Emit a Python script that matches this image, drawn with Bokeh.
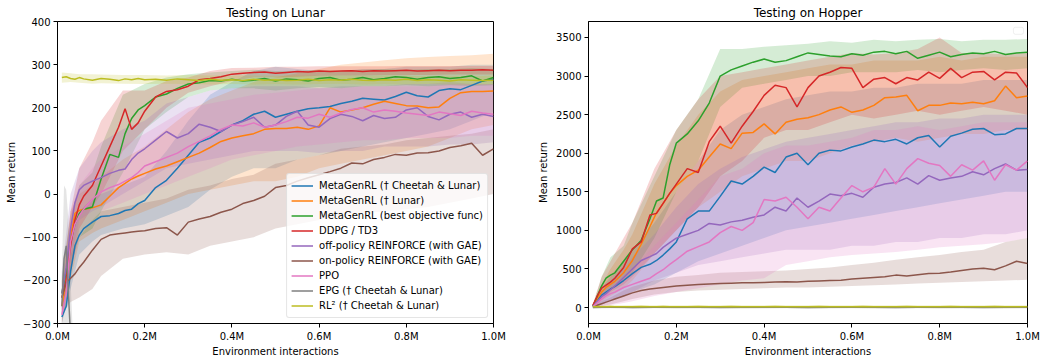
from bokeh.plotting import figure
from bokeh.layouts import row
from bokeh.models import Range1d, FixedTicker, CustomJSTickFormatter, BoxAnnotation
from bokeh.embed import file_html
from bokeh.resources import INLINE

# ---------------- data ----------------
# x grid (millions of environment interactions) for the mean curves
X = [0.01, 0.02, 0.03, 0.04, 0.05, 0.06, 0.08, 0.10, 0.12, 0.14, 0.155, 0.17, 0.185, 0.20,
     0.225, 0.25, 0.275, 0.30, 0.325, 0.35, 0.375, 0.40, 0.425, 0.45, 0.475, 0.50, 0.525, 0.55, 0.575, 0.60,
     0.625, 0.65, 0.675, 0.70, 0.725, 0.75, 0.775, 0.80, 0.825, 0.85, 0.875, 0.90, 0.925, 0.95, 0.975, 1.0]
# x grid for the shaded bands
BX = [0.01, 0.03, 0.05, 0.08, 0.10, 0.15, 0.20, 0.25,
      0.30, 0.35, 0.40, 0.45, 0.50, 0.55, 0.60, 0.65,
      0.70, 0.75, 0.80, 0.85, 0.90, 0.95, 1.0]
# EPG on Lunar only visible at the very start
EPG_X = [0.01, 0.015, 0.02, 0.025, 0.03, 0.035]

SERIES = ["MetaGenRL (\u2020 Cheetah & Lunar)", "MetaGenRL (\u2020 Lunar)", "MetaGenRL (best objective func)",
          "DDPG / TD3", "off-policy REINFORCE (with GAE)", "on-policy REINFORCE (with GAE)", "PPO",
          "EPG (\u2020 Cheetah & Lunar)", "RL\u00b2 (\u2020 Cheetah & Lunar)"]
COLORS = ["#1f77b4", "#ff7f0e", "#2ca02c", "#d62728", "#9467bd", "#8c564b", "#e377c2", "#7f7f7f", "#bcbd22"]

X_TICKS = [0.0, 0.2, 0.4, 0.6, 0.8, 1.0]
LUNAR_Y_TICKS = [-300, -200, -100, 0, 100, 200, 300, 400]
HOPPER_Y_TICKS = [0, 500, 1000, 1500, 2000, 2500, 3000, 3500]

# ----- Testing on Lunar -----
L_BLUE = [-285, -260, -180, -120, -95, -80, -65, -52, -50, -45, -38, -35, -22, -15,
          15, 32, 60, 90, 120, 130, 145, 160, 170, 185, 192, 178, 185, 192, 198, 200,
          203, 210, 215, 222, 220, 218, 226, 236, 228, 225, 240, 244, 242, 252, 262, 266]
L_ORANGE = [-260, -200, -100, -45, -38, -35, -32, -25, -5, 15, 25, 35, 42, 48,
            58, 65, 75, 85, 95, 108, 122, 130, 135, 140, 150, 152, 152, 155, 150, 158,
            200, 190, 195, 200, 208, 215, 210, 205, 204, 200, 202, 222, 235, 238, 238, 239]
L_GREEN = [-230, -180, -110, -70, -45, -35, -30, 35, 92, 85, 140, 175, 195, 205,
           225, 232, 245, 255, 258, 263, 262, 266, 262, 264, 268, 262, 267, 265, 262, 268,
           270, 264, 266, 270, 265, 268, 272, 270, 266, 270, 272, 268, 270, 274, 262, 270]
L_RED = [-240, -200, -120, -60, -25, -5, 20, 65, 110, 155, 198, 150, 165, 192,
         225, 238, 242, 250, 265, 268, 272, 278, 280, 282, 283, 280, 282, 284, 283, 285,
         284, 285, 286, 284, 286, 285, 286, 287, 285, 286, 287, 286, 287, 287, 288, 287]
L_PURPLE = [-230, -170, -80, -20, 10, 20, 30, 38, 48, 55, 58, 80, 95, 105,
            125, 145, 130, 140, 162, 155, 145, 160, 168, 178, 155, 160, 180, 192, 160, 155,
            175, 185, 180, 170, 182, 175, 178, 195, 200, 180, 172, 185, 190, 178, 185, 180]
L_BROWN = [-240, -205, -195, -185, -170, -158, -130, -105, -95, -92, -90, -88, -86, -85,
           -80, -78, -95, -65, -58, -52, -42, -35, -22, -15, -5, 15, 20, 30, 38, 45,
           52, 60, 72, 70, 80, 85, 92, 90, 95, 96, 100, 108, 112, 118, 90, 105]
L_PINK = [-280, -230, -110, -70, -50, -35, -12, 5, 15, 22, 30, 38, 50, 65,
          75, 85, 95, 110, 122, 135, 150, 160, 158, 165, 155, 160, 168, 178, 176, 185,
          178, 188, 196, 200, 190, 195, 192, 188, 185, 182, 190, 186, 182, 192, 188, 185]
L_GRAY = [-260, -150, -120, -230, -330, -420]
L_OLIVE = [270, 272, 268, 266, 270, 267, 264, 268, 266, 263, 267, 265, 268, 265,
           266, 264, 267, 265, 263, 266, 264, 265, 263, 266, 264, 265, 263, 264, 266, 263,
           265, 264, 266, 264, 263, 265, 264, 266, 263, 265, 264, 262, 265, 264, 263, 264]

L_BLUE_LO = [-300, -220, -140, -110, -95, -80, -70, -50, -30, 10, 40, 60, 60, 80, 90, 100, 110, 120, 130, 140, 150, 170, 190]
L_BLUE_HI = [-250, -80, -40, -10, 0, 20, 40, 100, 170, 230, 260, 285, 295, 290, 285, 285, 290, 290, 295, 295, 295, 300, 300]
L_ORANGE_LO = [-300, -200, -110, -90, -80, -60, -40, -20, 0, 10, 20, 30, 30, 40, 60, 70, 80, 90, 100, 110, 130, 150, 160]
L_ORANGE_HI = [-220, -40, 0, 20, 40, 80, 110, 150, 190, 220, 240, 260, 270, 280, 290, 300, 305, 310, 315, 318, 320, 322, 325]
L_GREEN_LO = [-270, -170, -100, -80, -40, 50, 150, 190, 225, 240, 245, 245, 240, 245, 248, 245, 250, 250, 252, 250, 252, 250, 252]
L_GREEN_HI = [-190, -50, 20, 50, 110, 230, 255, 270, 278, 282, 285, 288, 285, 286, 288, 286, 288, 290, 288, 290, 290, 292, 290]
L_RED_LO = [-280, -180, -80, -30, 0, 100, 150, 200, 235, 250, 262, 270, 270, 272, 274, 275, 275, 276, 276, 276, 277, 277, 277]
L_RED_HI = [-200, -40, 60, 120, 170, 240, 240, 262, 270, 285, 292, 293, 295, 295, 296, 296, 296, 296, 297, 297, 297, 297, 297]
L_PURPLE_LO = [-280, -150, -60, -40, -30, 0, 30, 60, 70, 80, 90, 100, 100, 100, 95, 100, 100, 110, 110, 110, 115, 115, 120]
L_PURPLE_HI = [-180, 0, 60, 100, 120, 150, 170, 210, 225, 240, 245, 250, 250, 250, 245, 250, 250, 250, 255, 255, 260, 255, 255]
L_BROWN_LO = [-280, -250, -240, -220, -190, -150, -140, -135, -140, -120, -110, -100, -80, -70, -60, -50, -45, -40, -35, -30, -20, -10, 0]
L_BROWN_HI = [-200, -140, -100, -60, -40, -30, -20, -10, 10, 20, 35, 45, 70, 80, 90, 105, 110, 115, 125, 130, 135, 140, 150]
L_PINK_LO = [-300, -180, -100, -60, -40, -20, 0, 20, 40, 60, 80, 90, 100, 110, 115, 120, 125, 125, 130, 130, 130, 135, 135]
L_PINK_HI = [-250, -40, 20, 60, 80, 110, 140, 170, 200, 210, 220, 230, 235, 240, 245, 245, 250, 250, 250, 250, 255, 255, 255]
L_GRAY_LO = [-340, -300, -330, -400, -450, -500]
L_GRAY_HI = [-180, 20, 10, -60, -200, -320]
L_OLIVE_LO = [258, 260, 258, 256, 257, 256, 255, 256, 255, 254, 255, 254, 255, 254, 255, 256, 254, 255, 254, 255, 254, 253, 254]
L_OLIVE_HI = [282, 280, 278, 278, 277, 276, 276, 275, 276, 275, 274, 275, 274, 275, 274, 275, 274, 275, 274, 273, 274, 273, 274]

# ----- Testing on Hopper -----
H_BLUE = [15, 100, 160, 200, 240, 270, 350, 440, 520, 560, 610, 680, 760, 850,
          1150, 1250, 1250, 1440, 1640, 1600, 1700, 1820, 1750, 1950, 2000, 1850, 2000, 2040, 2030, 2080,
          2120, 2170, 2150, 2180, 2120, 2200, 2230, 2080, 2220, 2260, 2310, 2320, 2240, 2250, 2320, 2320]
H_ORANGE = [20, 120, 200, 260, 300, 340, 450, 610, 820, 1050, 1230, 1350, 1480, 1580,
            1700, 1780, 1950, 2120, 2060, 2260, 2270, 2380, 2250, 2400, 2440, 2460, 2500, 2560, 2600, 2530,
            2560, 2620, 2720, 2730, 2750, 2550, 2620, 2620, 2650, 2640, 2660, 2640, 2680, 2870, 2720, 2740]
H_GREEN = [20, 150, 280, 380, 420, 450, 600, 750, 870, 1150, 1380, 1420, 1850, 2130,
           2250, 2420, 2650, 3000, 3080, 3130, 3180, 3220, 3180, 3200, 3250, 3300, 3280, 3260, 3250, 3290,
           3270, 3310, 3320, 3290, 3320, 3230, 3270, 3310, 3250, 3280, 3300, 3290, 3320, 3280, 3300, 3310]
H_RED = [30, 150, 250, 290, 330, 380, 520, 760, 850, 1200, 1220, 1350, 1480, 1600,
         1800, 1750, 2150, 2350, 2130, 2350, 2540, 2750, 2880, 2850, 2600, 2850, 3000, 3050, 3110, 3100,
         2850, 2960, 2980, 2900, 2980, 2950, 3050, 2970, 3100, 2980, 3050, 3060, 2950, 3050, 3040, 2850]
H_PURPLE = [15, 80, 140, 180, 230, 280, 390, 500, 610, 660, 700, 780, 840, 900,
            950, 1000, 1090, 1070, 1110, 1130, 1170, 1200, 1300, 1250, 1420, 1300, 1380, 1470, 1450, 1480,
            1430, 1560, 1600, 1620, 1680, 1600, 1710, 1650, 1680, 1700, 1760, 1720, 1800, 1860, 1780, 1790]
H_BROWN = [5, 30, 50, 70, 90, 110, 150, 190, 220, 240, 250, 260, 270, 280,
           290, 300, 305, 310, 315, 320, 322, 325, 330, 335, 330, 340, 345, 350, 355, 370,
           380, 390, 400, 420, 410, 425, 440, 445, 460, 480, 500, 510, 490, 540, 600, 570]
H_PINK = [10, 60, 110, 150, 180, 200, 260, 300, 340, 380, 440, 490, 560, 620,
          730, 790, 850, 970, 1050, 1000, 1100, 1400, 1380, 1430, 1300, 1150, 1300, 1250, 1420, 1580,
          1500, 1560, 1800, 1600, 1800, 1930, 1870, 1840, 1700, 1850, 1780, 1900, 1650, 1850, 1780, 1900]
H_GRAY = [0, 2, 3, 2, 1, 2, 3, 2, 1, 2, 3, 2, 1, 2, 3, 2, 1, 2, 3, 2, 1, 2, 3]
H_OLIVE = [10, 12, 11, 10, 12, 11, 10, 11, 12, 10, 11, 12, 11, 10,
           11, 12, 10, 11, 12, 11, 10, 11, 12, 11, 10, 11, 12, 11, 10, 11,
           12, 11, 10, 11, 12, 11, 10, 11, 12, 11, 10, 11, 12, 11, 10, 11]

H_BLUE_LO = [0, 50, 100, 150, 200, 300, 450, 600, 700, 800, 900, 1000, 1050, 1100, 1150, 1200, 1250, 1300, 1350, 1400, 1450, 1500, 1500]
H_BLUE_HI = [20, 250, 400, 600, 750, 1100, 1500, 1900, 2300, 2500, 2600, 2700, 2750, 2800, 2800, 2850, 2850, 2900, 2900, 2900, 2950, 2950, 2950]
H_ORANGE_LO = [0, 80, 150, 250, 350, 700, 1000, 1300, 1500, 1700, 1800, 1900, 1900, 2000, 2100, 2150, 2200, 2150, 2200, 2250, 2250, 2300, 2300]
H_ORANGE_HI = [30, 300, 500, 750, 950, 1600, 2100, 2500, 2800, 2950, 3000, 3050, 3100, 3150, 3150, 3200, 3200, 3200, 3250, 3200, 3250, 3250, 3250]
H_GREEN_LO = [0, 150, 250, 350, 450, 900, 1500, 1900, 2600, 2850, 2900, 2950, 3000, 3000, 3050, 3050, 3050, 3080, 3050, 3080, 3100, 3080, 3100]
H_GREEN_HI = [30, 400, 650, 800, 1100, 1700, 2300, 2700, 3350, 3350, 3380, 3400, 3420, 3450, 3430, 3470, 3450, 3470, 3480, 3450, 3470, 3470, 3480]
H_RED_LO = [0, 100, 200, 300, 400, 700, 1000, 1300, 1700, 1900, 2200, 2300, 2300, 2400, 2500, 2450, 2500, 2550, 2500, 2550, 2600, 2550, 2500]
H_RED_HI = [50, 400, 600, 900, 1100, 1800, 2300, 2700, 3000, 3050, 3100, 3150, 3200, 3250, 3300, 3280, 3300, 3350, 3500, 3300, 3300, 3280, 3300]
H_PURPLE_LO = [0, 40, 80, 150, 200, 350, 450, 550, 600, 650, 700, 750, 750, 750, 800, 800, 850, 850, 900, 900, 950, 950, 1000]
H_PURPLE_HI = [20, 200, 350, 500, 650, 950, 1300, 1600, 1800, 1950, 2050, 2150, 2200, 2250, 2300, 2350, 2400, 2400, 2450, 2450, 2500, 2500, 2500]
H_BROWN_LO = [0, 20, 40, 80, 110, 170, 200, 220, 230, 240, 250, 260, 260, 270, 280, 290, 300, 310, 320, 330, 340, 350, 360]
H_BROWN_HI = [10, 80, 130, 220, 270, 350, 400, 420, 450, 460, 470, 480, 500, 520, 550, 580, 620, 650, 680, 720, 750, 850, 900]
H_PINK_LO = [0, 10, 30, 60, 80, 150, 200, 250, 300, 350, 380, 550, 600, 650, 680, 700, 720, 750, 780, 800, 820, 850, 900]
H_PINK_HI = [20, 150, 250, 400, 500, 800, 1100, 1400, 1700, 1800, 2000, 2100, 2100, 2150, 2200, 2300, 2300, 2350, 2300, 2350, 2400, 2400, 2400]
H_GRAY_LO = [-10, -12, -10, -11, -12, -10, -11, -12, -10, -11, -12, -10, -11, -12, -10, -11, -12, -10, -11, -12, -10, -11, -12]
H_GRAY_HI = [12, 14, 13, 12, 14, 13, 12, 14, 13, 12, 14, 13, 12, 14, 13, 12, 14, 13, 12, 14, 13, 12, 14]
H_OLIVE_LO = [-8, -6, -7, -8, -6, -7, -8, -6, -7, -8, -6, -7, -8, -6, -7, -8, -6, -7, -8, -6, -7, -8, -6]
H_OLIVE_HI = [28, 30, 29, 28, 30, 29, 28, 30, 29, 28, 30, 29, 28, 30, 29, 28, 30, 29, 28, 30, 29, 28, 30]

FONT = "DejaVu Sans"


def make_fig(title, frame_w, border_left, border_right, y_range, y_ticks, label_standoff):
    p = figure(title=title, frame_width=frame_w, frame_height=302,
               min_border_left=border_left, min_border_right=border_right,
               min_border_top=21, min_border_bottom=35,
               x_range=Range1d(0, 1), y_range=Range1d(*y_range),
               output_backend="svg", toolbar_location=None)
    p.title.align = "center"
    p.title.text_font = FONT
    p.title.text_font_size = "12px"
    p.title.text_font_style = "normal"
    p.title.text_color = "black"
    p.title.standoff = 4
    p.xgrid.visible = False
    p.ygrid.visible = False
    p.outline_line_color = "black"
    p.outline_line_width = 1
    p.outline_line_alpha = 1
    p.xaxis.ticker = FixedTicker(ticks=X_TICKS)
    p.xaxis.formatter = CustomJSTickFormatter(code="return tick.toFixed(1) + 'M';")
    p.yaxis.ticker = FixedTicker(ticks=y_ticks)
    p.yaxis.formatter = CustomJSTickFormatter(
        code="return tick < 0 ? '\u2212' + Math.abs(tick) : String(tick);")
    p.xaxis.axis_label = "Environment interactions"
    p.yaxis.axis_label = "Mean return"
    for ax in (p.xaxis[0], p.yaxis[0]):
        ax.major_label_text_font = FONT
        ax.major_label_text_font_size = "10px"
        ax.major_label_text_color = "black"
        ax.axis_label_text_font = FONT
        ax.axis_label_text_font_size = "10px"
        ax.axis_label_text_font_style = "normal"
        ax.axis_label_text_color = "black"
        ax.minor_tick_line_color = None
        ax.major_tick_out = 4
        ax.major_tick_in = 0
        ax.major_tick_line_color = "black"
        ax.axis_line_color = "black"
        ax.major_label_standoff = 3
    p.xaxis[0].axis_label_standoff = 1
    p.yaxis[0].axis_label_standoff = label_standoff
    return p


def draw(p, means, bands, with_legend):
    # bands first
    for (bx, lo, hi), color in zip(bands, COLORS):
        p.varea(x=bx, y1=lo, y2=hi, fill_color=color, fill_alpha=0.2)
    for (mx, my), color, name in zip(means, COLORS, SERIES):
        if with_legend:
            p.line(mx, my, line_color=color, line_width=1.5, legend_label=name)
        else:
            p.line(mx, my, line_color=color, line_width=1.5)


# ---- Lunar ----
p1 = make_fig("Testing on Lunar", 436, 57, 37, (-300, 400), LUNAR_Y_TICKS, 3)
lunar_means = [(X, L_BLUE), (X, L_ORANGE), (X, L_GREEN), (X, L_RED), (X, L_PURPLE),
               (X, L_BROWN), (X, L_PINK), (EPG_X, L_GRAY), (X, L_OLIVE)]
lunar_bands = [(BX, L_BLUE_LO, L_BLUE_HI), (BX, L_ORANGE_LO, L_ORANGE_HI), (BX, L_GREEN_LO, L_GREEN_HI),
               (BX, L_RED_LO, L_RED_HI), (BX, L_PURPLE_LO, L_PURPLE_HI), (BX, L_BROWN_LO, L_BROWN_HI),
               (BX, L_PINK_LO, L_PINK_HI), (EPG_X, L_GRAY_LO, L_GRAY_HI), (BX, L_OLIVE_LO, L_OLIVE_HI)]
draw(p1, lunar_means, lunar_bands, True)
lg = p1.legend[0]
lg.location = "bottom_right"
lg.margin = 5
lg.padding = 4
lg.spacing = 0
lg.label_height = 15
lg.glyph_height = 15
lg.glyph_width = 22
lg.label_standoff = 6
lg.label_text_font = FONT
lg.label_text_font_size = "10px"
lg.label_text_color = "black"
lg.border_line_color = "#cccccc"
lg.border_line_width = 1
lg.border_radius = 3
lg.background_fill_alpha = 0.8

# ---- Hopper ----
p2 = make_fig("Testing on Hopper", 439, 58, 14, (-207, 3707), HOPPER_Y_TICKS, 4)
hopper_means = [(X, H_BLUE), (X, H_ORANGE), (X, H_GREEN), (X, H_RED), (X, H_PURPLE),
                (X, H_BROWN), (X, H_PINK), (BX, H_GRAY), (X, H_OLIVE)]
hopper_bands = [(BX, H_BLUE_LO, H_BLUE_HI), (BX, H_ORANGE_LO, H_ORANGE_HI), (BX, H_GREEN_LO, H_GREEN_HI),
                (BX, H_RED_LO, H_RED_HI), (BX, H_PURPLE_LO, H_PURPLE_HI), (BX, H_BROWN_LO, H_BROWN_HI),
                (BX, H_PINK_LO, H_PINK_HI), (BX, H_GRAY_LO, H_GRAY_HI), (BX, H_OLIVE_LO, H_OLIVE_HI)]
draw(p2, hopper_means, hopper_bands, False)
# empty legend frame shown in the top-right corner of the reference
p2.add_layout(BoxAnnotation(left=0.968, right=0.991, bottom=3541, top=3632,
                            fill_color="white", fill_alpha=0.8, line_color="#cccccc",
                            line_width=1, border_radius=2))

layout = row(p1, p2)
open("out.html", "w").write(file_html(layout, INLINE))
